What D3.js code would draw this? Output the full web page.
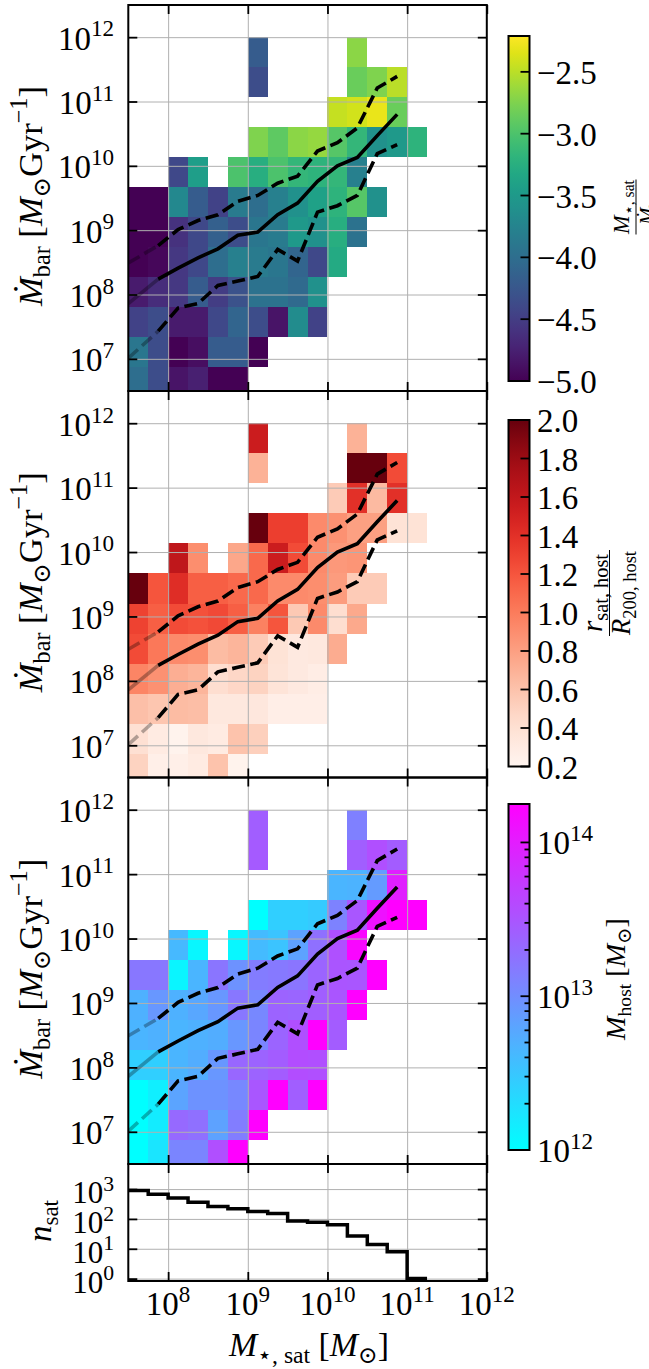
<!DOCTYPE html>
<html>
<head>
<meta charset="utf-8">
<script src="https://cdn.jsdelivr.net/npm/d3@7"></script>
<style>
body { margin: 0; background: #fff; }
text { font-family: "Liberation Serif", "DejaVu Serif", serif; fill: #000; }
</style>
</head>
<body>
<div id="chartbox"></div>
<script>
var n = null;

// log10 bin edges of the 2d histograms
var xEdges = [7.5, 7.75, 8, 8.25, 8.5, 8.75, 9, 9.25, 9.5, 9.75, 10, 10.25, 10.5, 10.75, 11, 11.25];
var yEdges = [6.4, 6.867, 7.333, 7.8, 8.267, 8.733, 9.2, 9.667, 10.133, 10.6, 11.067, 11.533, 12.0];

// panel 1: log10(M*,sat / Mdot), rows from top to bottom
var ratioRows = [
  [n, n, n, n, n, n, -4.2, n, n, n, n, -2.7, n, n, n],
  [n, n, n, n, n, n, -4.35, n, n, n, n, -2.85, -2.75, -2.5, n],
  [n, n, n, n, n, n, n, n, n, n, -2.45, -2.4, -2.3, -2.85, n],
  [n, n, n, n, n, n, -2.75, -2.9, -2.7, -2.65, -2.95, -3.15, -3.6, -3.5, -3.2],
  [n, n, -4.4, -3.45, n, -3.0, -3.25, -3.0, -3.15, -3.2, -3.15, -3.8, n, n, n],
  [-5.0, -5.0, -3.7, -4.2, -4.45, -3.85, -4.0, -3.8, -3.6, -3.4, -3.2, -2.95, -3.6, n, n],
  [-5.0, -5.0, -4.6, -4.4, -4.15, -4.35, -3.9, -3.85, -3.5, -3.6, -3.25, -3.95, n, n, n],
  [-5.0, -4.95, -4.55, -4.4, -4.0, -3.8, -3.85, -3.9, -4.1, -4.4, -3.3, n, n, n, n],
  [-4.8, -4.65, -4.55, -4.2, -4.5, -4.3, -3.95, -3.95, -4.05, -3.6, n, n, n, n, n],
  [-4.45, -4.35, -4.8, -4.8, -4.4, -4.1, -4.35, -4.85, -3.65, -4.45, n, n, n, n, n],
  [-3.9, -4.35, -5.0, -4.9, -4.2, -4.2, -5.0, n, n, n, n, n, n, n, n],
  [-4.0, -4.35, -4.85, -4.75, -5.0, -5.0, n, n, n, n, n, n, n, n, n]
];
var ratioRange = [-5.0, -2.21];
var ratioTicks = [-5.0, -4.5, -4.0, -3.5, -3.0, -2.5];

// panel 2: r_sat,host / R200,host
var radiusRows = [
  [n, n, n, n, n, n, 1.55, n, n, n, n, 0.7, n, n, n],
  [n, n, n, n, n, n, 0.7, n, n, n, n, 2.0, 2.0, 1.25, n],
  [n, n, n, n, n, n, n, n, n, n, 0.55, 1.4, 0.65, 1.4, n],
  [n, n, n, n, n, n, 2.0, 1.32, 1.32, 0.92, 0.88, 0.8, 0.8, 0.38, 0.38],
  [n, n, 1.62, 0.9, n, 0.76, 1.1, 1.55, 1.25, 0.92, 0.84, 0.86, n, n, n],
  [2.0, 1.2, 1.42, 1.15, 1.15, 1.1, 1.1, 0.92, 0.92, 0.9, 0.82, 0.55, 0.55, n, n],
  [1.3, 1.15, 1.25, 1.22, 1.26, 1.15, 0.97, 1.2, 0.56, 0.92, 0.42, 0.75, n, n, n],
  [1.25, 1.02, 0.92, 0.9, 0.64, 0.68, 0.55, 0.38, 0.32, 0.33, 0.73, n, n, n, n],
  [0.95, 0.88, 0.72, 0.68, 0.42, 0.47, 0.5, 0.37, 0.32, 0.28, n, n, n, n, n],
  [0.62, 0.58, 0.64, 0.63, 0.33, 0.33, 0.34, 0.27, 0.27, 0.27, n, n, n, n, n],
  [0.4, 0.3, 0.22, 0.33, 0.3, 0.6, 0.52, n, n, n, n, n, n, n, n],
  [0.5, 0.26, 0.26, 0.3, 0.6, 0.22, n, n, n, n, n, n, n, n, n]
];
var radiusRange = [0.2, 2.0];
var radiusTicks = [0.2, 0.4, 0.6, 0.8, 1.0, 1.2, 1.4, 1.6, 1.8, 2.0];

// panel 3: log10 M_host
var hostRows = [
  [n, n, n, n, n, n, 13.42, n, n, n, n, 13.12, n, n, n],
  [n, n, n, n, n, n, 13.46, n, n, n, n, 13.42, 13.55, 13.44, n],
  [n, n, n, n, n, n, n, n, n, n, 12.65, 12.67, 12.88, 13.98, n],
  [n, n, n, n, n, n, 12.0, 12.42, 12.42, 12.47, 13.1, 13.49, 14.1, 14.25, 14.25],
  [n, n, 12.62, 12.07, n, 12.07, 12.6, 12.52, 12.82, 13.26, 13.54, 14.2, n, n, n],
  [13.2, 13.2, 12.09, 12.65, 13.22, 12.96, 13.16, 13.18, 13.22, 13.37, 13.5, 13.49, 14.25, n, n],
  [12.69, 12.92, 12.69, 12.78, 12.92, 13.2, 13.05, 13.38, 13.36, 13.42, 13.5, 14.25, n, n, n],
  [12.65, 12.69, 12.65, 12.69, 12.72, 12.92, 13.08, 13.37, 13.55, 14.25, 13.44, n, n, n, n],
  [12.42, 12.42, 12.65, 12.72, 12.92, 13.34, 13.38, 13.44, 13.57, 13.55, n, n, n, n, n],
  [12.0, 12.14, 12.8, 12.96, 12.96, 13.05, 13.49, 14.25, 13.42, 14.25, n, n, n, n, n],
  [12.0, 12.17, 13.32, 13.26, 12.82, 13.15, 14.25, n, n, n, n, n, n, n, n],
  [12.0, 12.23, 13.08, 13.08, 13.55, 14.25, n, n, n, n, n, n, n, n, n]
];
var hostRange = [12, 14.25];

// running median and 16/84 percentiles (log10)
var lineLogX = [7.5, 7.875, 8.125, 8.375, 8.625, 8.875, 9.125, 9.375, 9.625, 9.875, 10.125, 10.375, 10.625, 10.875];
var medianLog = [7.86, 8.24, 8.41, 8.57, 8.71, 8.92, 8.97, 9.24, 9.42, 9.76, 10.0, 10.13, 10.47, 10.8];
var upperLog = [8.49, 8.76, 9.01, 9.15, 9.24, 9.45, 9.54, 9.73, 9.84, 10.23, 10.36, 10.59, 11.21, 11.39];
var lowerLog = [7.01, 7.43, 7.79, 7.86, 8.14, 8.21, 8.28, 8.70, 8.52, 9.28, 9.38, 9.54, 10.19, 10.33];

// number of satellites per stellar mass bin
var nSat = [900, 670, 500, 360, 260, 220, 178, 152, 85, 78, 64, 27, 14, 8, 1];

var xTicks = [1e8, 1e9, 1e10, 1e11, 1e12];
var yTicks = [1e7, 1e8, 1e9, 1e10, 1e11, 1e12];
var nTicks = [1, 10, 100, 1000];

var width = 649, height = 1369;
var svg = d3.select('#chartbox').append('svg').attr('width', width).attr('height', height);

var left = 128.3, right = 486.8;
var x = d3.scaleLog().domain([Math.pow(10, 7.5), 1e12]).range([left, right]);
var FS = 33;

function pow10(v) { return Math.pow(10, v); }

function powText(t, base, exp, size) {
  t.append('tspan').text(base);
  t.append('tspan').attr('dy', -0.4 * size).attr('font-size', size * 0.7).text(exp);
}

// label made of [text, kind] pieces; kind: 'i' italic, 'sub', 'sup', '' normal
function richText(parent, pieces, size) {
  var t = parent.append('text').attr('text-anchor', 'middle').attr('font-size', size);
  var shift = 0;
  pieces.forEach(function(p) {
    var target = p[1] === 'sub' ? 0.22 * size : (p[1] === 'sup' ? -0.42 * size : 0);
    var ts = t.append('tspan').attr('dy', target - shift).text(p[0]);
    if (p[1] === 'i') ts.attr('font-style', 'italic');
    if (p[1] === 'sub' || p[1] === 'sup') ts.attr('font-size', size * 0.7);
    shift = target;
  });
  return t;
}

// place a label so that its length matches the reference
function placeLabel(pieces, size, tx, ty, rot, targetLen) {
  var g = svg.append('g');
  var t = richText(g, pieces, size);
  var len = t.node().getComputedTextLength();
  var s = targetLen ? targetLen / len : 1;
  g.attr('transform', 'translate(' + tx + ',' + ty + ')' + (rot ? ' rotate(-90)' : '') + ' scale(' + s + ')');
  return g;
}

function gridAndTicks(g, y, top, bottom, yT) {
  g.append('g').attr('transform', 'translate(0,' + bottom + ')')
    .call(d3.axisBottom(x).tickValues(xTicks.slice(0, 4)).tickSize(-(bottom - top)).tickFormat(''))
    .call(function(s) { s.select('.domain').remove(); s.selectAll('line').attr('stroke', '#b0b0b0').attr('stroke-width', 1); });
  g.append('g').attr('transform', 'translate(' + left + ',0)')
    .call(d3.axisLeft(y).tickValues(yT).tickSize(-(right - left)).tickFormat(''))
    .call(function(s) { s.select('.domain').remove(); s.selectAll('line').attr('stroke', '#b0b0b0').attr('stroke-width', 1); });
}

function frameAndTicks(g, y, top, bottom, yT) {
  var axes = [
    [d3.axisBottom(x).tickValues(xTicks), 'translate(0,' + bottom + ')'],
    [d3.axisTop(x).tickValues(xTicks), 'translate(0,' + top + ')'],
    [d3.axisLeft(y).tickValues(yT), 'translate(' + left + ',0)'],
    [d3.axisRight(y).tickValues(yT), 'translate(' + right + ',0)']
  ];
  axes.forEach(function(a) {
    g.append('g').attr('transform', a[1]).call(a[0].tickSize(-9).tickFormat(''))
      .call(function(s) { s.select('.domain').remove(); s.selectAll('line').attr('stroke', '#000').attr('stroke-width', 1.8); });
  });
  g.append('rect').attr('x', left).attr('y', top).attr('width', right - left).attr('height', bottom - top)
    .attr('fill', 'none').attr('stroke', '#000').attr('stroke-width', 2);
}

function yTickLabels(g, y, yT, off, size) {
  yT.forEach(function(v) {
    var t = g.append('text').attr('x', 114).attr('y', y(v) + off).attr('text-anchor', 'end').attr('font-size', size);
    powText(t, '10', String(Math.round(Math.log10(v))), size);
  });
}

var mbarPieces = [['Ṁ', 'i'], ['bar', 'sub'], [' [', ''], ['M', 'i'], ['⊙', 'sub'], ['Gyr', ''], ['−1', 'sup'], [']', '']];

var heatPanels = [
  { top: 5, bottom: 391, rows: ratioRows,
    color: function(v) { return d3.interpolateViridis((v - ratioRange[0]) / (ratioRange[1] - ratioRange[0])); } },
  { top: 391, bottom: 777.5, rows: radiusRows,
    color: function(v) { return d3.interpolateReds((v - radiusRange[0]) / (radiusRange[1] - radiusRange[0])); } },
  { top: 777.5, bottom: 1164, rows: hostRows,
    color: d3.scaleLinear().domain(hostRange).range(['#00ffff', '#ff00ff']) }
];

var lineStyles = [[upperLog, '13,5.5'], [medianLog, null], [lowerLog, '13,5.5']];

heatPanels.forEach(function(p, i) {
  var y = d3.scaleLog().domain([pow10(6.5), pow10(12.5)]).range([p.bottom, p.top]);
  var g = svg.append('g');
  var clipId = 'clip' + i;
  svg.append('clipPath').attr('id', clipId).append('rect')
    .attr('x', left).attr('y', p.top).attr('width', right - left).attr('height', p.bottom - p.top);

  var cells = [];
  p.rows.forEach(function(row, r) {
    row.forEach(function(v, c) { if (v !== null) cells.push({ r: p.rows.length - 1 - r, c: c, v: v }); });
  });
  g.append('g').attr('clip-path', 'url(#' + clipId + ')')
    .selectAll('rect').data(cells).join('rect')
    .attr('x', function(d) { return x(pow10(xEdges[d.c])); })
    .attr('width', function(d) { return x(pow10(xEdges[d.c + 1])) - x(pow10(xEdges[d.c])); })
    .attr('y', function(d) { return y(pow10(yEdges[d.r + 1])); })
    .attr('height', function(d) { return y(pow10(yEdges[d.r])) - y(pow10(yEdges[d.r + 1])); })
    .attr('fill', function(d) { return p.color(d.v); })
    .attr('shape-rendering', 'crispEdges');

  gridAndTicks(g, y, p.top, p.bottom, yTicks);

  var line = d3.line().x(function(d) { return x(pow10(d[0])); }).y(function(d) { return y(pow10(d[1])); });
  var lg = g.append('g').attr('clip-path', 'url(#' + clipId + ')');
  lineStyles.forEach(function(ls) {
    var pts = lineLogX.map(function(lx, k) { return [lx, ls[0][k]]; });
    lg.append('path').attr('d', line(pts.slice(0, 2))).attr('fill', 'none').attr('stroke', '#000')
      .attr('stroke-width', 3.6).attr('stroke-opacity', 0.3).attr('stroke-dasharray', ls[1]);
    lg.append('path').attr('d', line(pts.slice(1))).attr('fill', 'none').attr('stroke', '#000')
      .attr('stroke-width', 3.6).attr('stroke-dasharray', ls[1]);
  });

  frameAndTicks(g, y, p.top, p.bottom, yTicks);
  yTickLabels(g, y, yTicks, 12.5, FS);
  placeLabel(mbarPieces, 34, 42, (p.top + p.bottom) / 2 - 2, true, 220);
});

// ---- colorbars ----
var cbX = 508.5, cbW = 21;
var defs = svg.append('defs');
function colorbar(id, y0, y1, colorFn) {
  var grad = defs.append('linearGradient').attr('id', id).attr('x1', 0).attr('y1', 1).attr('x2', 0).attr('y2', 0);
  d3.range(0, 1.0001, 0.05).forEach(function(t) {
    grad.append('stop').attr('offset', t).attr('stop-color', colorFn(t));
  });
  svg.append('rect').attr('x', cbX).attr('y', y0).attr('width', cbW).attr('height', y1 - y0)
    .attr('fill', 'url(#' + id + ')');
}
function cbFrame(y0, y1) {
  svg.append('rect').attr('x', cbX).attr('y', y0).attr('width', cbW).attr('height', y1 - y0)
    .attr('fill', 'none').attr('stroke', '#000').attr('stroke-width', 2);
}
function cbTick(yy, len) {
  svg.append('line').attr('x1', cbX + cbW).attr('x2', cbX + cbW - len).attr('y1', yy).attr('y2', yy)
    .attr('stroke', '#000').attr('stroke-width', 1.8);
}
function fraction(cy, numPieces, numX, numLen, lineX, denPieces, denX, denLen) {
  placeLabel(numPieces, 22, numX, cy, true, numLen);
  svg.append('line').attr('x1', lineX).attr('x2', lineX).attr('y1', cy - Math.max(numLen, denLen) / 2 - 1)
    .attr('y2', cy + Math.max(numLen, denLen) / 2 + 1).attr('stroke', '#000').attr('stroke-width', 1);
  placeLabel(denPieces, 22, denX, cy, true, denLen);
}

// colorbar 1
var cb1 = d3.scaleLinear().domain(ratioRange).range([381, 36]);
colorbar('g1', 36, 381, d3.interpolateViridis);
ratioTicks.forEach(function(v) {
  cbTick(cb1(v), 9);
  svg.append('text').attr('x', 537).attr('y', cb1(v) + 12).attr('font-size', FS).text(d3.format('.1f')(v));
});
cbFrame(36, 381);
fraction(207, [['M', 'i'], ['⋆, sat', 'sub']], 629, 53, 636, [['Ṁ', 'i'], ['bar', 'sub']], 654, 36);

// colorbar 2
var cb2 = d3.scaleLinear().domain(radiusRange).range([766.5, 420]);
colorbar('g2', 420, 766.5, d3.interpolateReds);
radiusTicks.forEach(function(v) {
  cbTick(cb2(v), 9);
  svg.append('text').attr('x', 537).attr('y', cb2(v) + 12).attr('font-size', FS).text(d3.format('.1f')(v));
});
cbFrame(420, 766.5);
fraction(593, [['r', 'i'], ['sat, host', 'sub']], 602, 78, 609.5, [['R', 'i'], ['200, host', 'sub']], 630, 84);

// colorbar 3 (log)
var cb3 = d3.scaleLog().domain([pow10(hostRange[0]), pow10(hostRange[1])]).range([1150, 804]);
colorbar('g3', 804, 1150, d3.scaleLinear().range(['#00ffff', '#ff00ff']));
[1e12, 1e13, 1e14].forEach(function(v) {
  cbTick(cb3(v), 9);
  var t = svg.append('text').attr('x', 537).attr('y', cb3(v) + 12).attr('font-size', FS);
  powText(t, '10', String(Math.round(Math.log10(v))), FS);
});
d3.range(2, 10).forEach(function(m) {
  [1e12, 1e13].forEach(function(d) { cbTick(cb3(m * d), 5); });
});
cbFrame(804, 1150);
placeLabel([['M', 'i'], ['host', 'sub'], [' [', ''], ['M', 'i'], ['⊙', 'sub'], [']', '']], 30, 625, 979, true, 122);

// ---- bottom panel: number of satellites ----
var hTop = 1164, hBottom = 1281;
var yn = d3.scaleLog().domain([pow10(-0.08), pow10(3.84)]).range([hBottom, hTop]);
var hg = svg.append('g');
gridAndTicks(hg, yn, hTop, hBottom, nTicks);
var stepPts = nSat.map(function(v, c) { return [xEdges[c], v]; });
stepPts.push([xEdges[nSat.length], nSat[nSat.length - 1]]);
hg.append('path')
  .attr('d', d3.line().curve(d3.curveStepAfter)
    .x(function(d) { return x(pow10(d[0])); }).y(function(d) { return yn(d[1]); })(stepPts))
  .attr('fill', 'none').attr('stroke', '#000').attr('stroke-width', 3.5);
frameAndTicks(hg, yn, hTop, hBottom, nTicks);
yTickLabels(hg, yn, nTicks, 14, 31);
xTicks.forEach(function(v) {
  var t = svg.append('text').attr('x', x(v)).attr('y', 1315).attr('text-anchor', 'middle').attr('font-size', FS);
  powText(t, '10', String(Math.round(Math.log10(v))), FS);
});

placeLabel([['n', 'i'], ['sat', 'sub']], 34, 51, 1221, true, 42);
placeLabel([['M', 'i'], ['⋆, sat', 'sub'], [' [', ''], ['M', 'i'], ['⊙', 'sub'], [']', '']], 34, 309, 1356, false, 160);
</script>
</body>
</html>
